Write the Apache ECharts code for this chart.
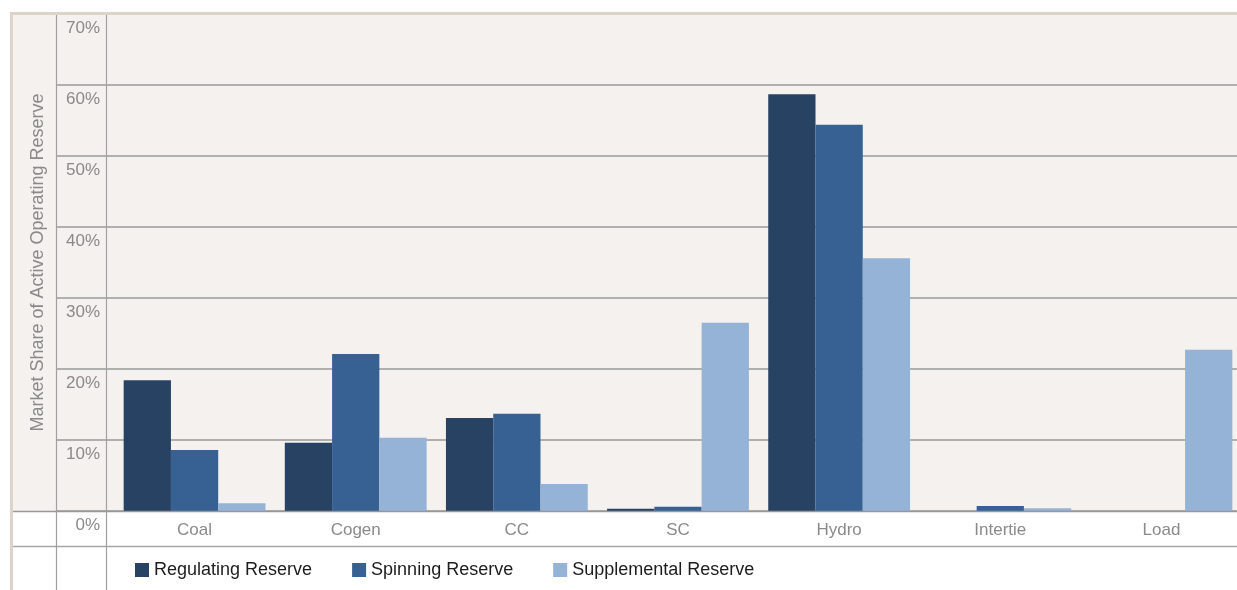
<!DOCTYPE html>
<html>
<head>
<meta charset="utf-8">
<title>Market Share of Active Operating Reserve</title>
<script src="https://cdn.jsdelivr.net/npm/echarts@6/dist/echarts.min.js"></script>
<style>
  html, body { margin: 0; padding: 0; background: #ffffff; }
  #chart { width: 1237px; height: 590px; }
</style>
</head>
<body>
<div id="chart"></div>
<script>
// Resource categories along the x axis
const categories = ['Coal', 'Cogen', 'CC', 'SC', 'Hydro', 'Intertie', 'Load'];

// Market share (%) of each operating reserve product
const regulatingReserve   = [18.4, 9.6, 13.1, 0.3, 58.7, 0.0, 0.0];
const spinningReserve     = [8.6, 22.1, 13.7, 0.6, 54.4, 0.7, 0.0];
const supplementalReserve = [1.1, 10.3, 3.8, 26.5, 35.6, 0.4, 22.7];

// Y axis scale (percent)
const yTicks = { min: 0, max: 70, interval: 10 };

const seriesNames = ['Regulating Reserve', 'Spinning Reserve', 'Supplemental Reserve'];
const seriesColors = ['#274263', '#366192', '#95b2d7'];

const FONT = '"Liberation Sans", Arial, Helvetica, sans-serif';
const GRID_LINE = { color: '#989898', width: 1.5 };

const chart = echarts.init(document.getElementById('chart'), null, { renderer: 'canvas' });

const option = {
  backgroundColor: '#ffffff',
  animation: false,
  textStyle: { fontFamily: FONT },
  legend: {
    left: 135,
    top: 561,
    padding: 0,
    itemWidth: 14,
    itemHeight: 14,
    itemGap: 40,
    icon: 'rect',
    textStyle: { fontFamily: FONT, fontSize: 18, color: '#1c1c1c', lineHeight: 18 },
    data: seriesNames
  },
  grid: [
    { left: 114, top: 14, width: 1128, height: 497, containLabel: false, outerBoundsMode: 'none' },
    // narrow strip carrying the gridlines across the tick-label column
    { left: 56, top: 14, width: 58, height: 497, containLabel: false, outerBoundsMode: 'none' }
  ],
  xAxis: [
    {
      type: 'category',
      gridIndex: 0,
      data: categories,
      axisLine: { show: false },
      axisTick: { show: false },
      axisLabel: { fontFamily: FONT, fontSize: 17, color: '#8a8a8a', margin: 11 }
    },
    { type: 'category', gridIndex: 1, data: [''], show: false }
  ],
  yAxis: [
    {
      type: 'value',
      gridIndex: 0,
      min: yTicks.min,
      max: yTicks.max,
      interval: yTicks.interval,
      name: 'Market Share of Active Operating Reserve',
      nameLocation: 'middle',
      nameGap: 67,
      nameRotate: 90,
      nameTextStyle: { fontFamily: FONT, fontSize: 18, color: '#8a8a8a' },
      axisLine: { show: false },
      axisTick: { show: false },
      axisLabel: {
        formatter: '{value}%',
        fontFamily: FONT,
        fontSize: 17,
        color: '#8a8a8a',
        margin: 14,
        verticalAlign: 'top',
        lineHeight: 17,
        padding: [6, 0, 0, 0]
      },
      splitLine: { show: true, lineStyle: GRID_LINE }
    },
    {
      type: 'value',
      gridIndex: 1,
      min: yTicks.min,
      max: yTicks.max,
      interval: yTicks.interval,
      axisLine: { show: false },
      axisTick: { show: false },
      axisLabel: { show: false },
      splitLine: { show: true, lineStyle: GRID_LINE }
    }
  ],
  series: [
    { name: seriesNames[0], data: regulatingReserve, color: seriesColors[0] },
    { name: seriesNames[1], data: spinningReserve, color: seriesColors[1] },
    { name: seriesNames[2], data: supplementalReserve, color: seriesColors[2] }
  ].map(s => ({
    type: 'bar',
    name: s.name,
    data: s.data,
    xAxisIndex: 0,
    yAxisIndex: 0,
    barGap: '0%',
    barCategoryGap: '12%',
    itemStyle: { color: s.color },
    emphasis: { disabled: true }
  })),
  graphic: [
    // panel behind the plot
    { type: 'rect', z: -10, silent: true, shape: { x: 13, y: 15, width: 1224, height: 496 }, style: { fill: '#f4f1ee' } },
    // table rules: baseline, legend divider and column dividers
    { type: 'line', z: 5, silent: true, shape: { x1: 13, y1: 511.5, x2: 1237, y2: 511.5 }, style: { stroke: '#989898', lineWidth: 1.5 } },
    { type: 'line', z: 5, silent: true, shape: { x1: 13, y1: 546.5, x2: 1237, y2: 546.5 }, style: { stroke: '#a6a6a6', lineWidth: 1.5 } },
    { type: 'line', z: 5, silent: true, shape: { x1: 56.5, y1: 15, x2: 56.5, y2: 590 }, style: { stroke: '#a0a0a0', lineWidth: 1.2 } },
    { type: 'line', z: 5, silent: true, shape: { x1: 106.5, y1: 15, x2: 106.5, y2: 590 }, style: { stroke: '#a0a0a0', lineWidth: 1.2 } },
    // frame edges
    { type: 'rect', z: 100, silent: true, shape: { x: 10, y: 12, width: 1227, height: 3 }, style: { fill: '#dcd4cb' } },
    { type: 'rect', z: 100, silent: true, shape: { x: 10, y: 12, width: 3, height: 578 }, style: { fill: '#dcd4cb' } }
  ]
};

chart.setOption(option);
</script>
</body>
</html>
